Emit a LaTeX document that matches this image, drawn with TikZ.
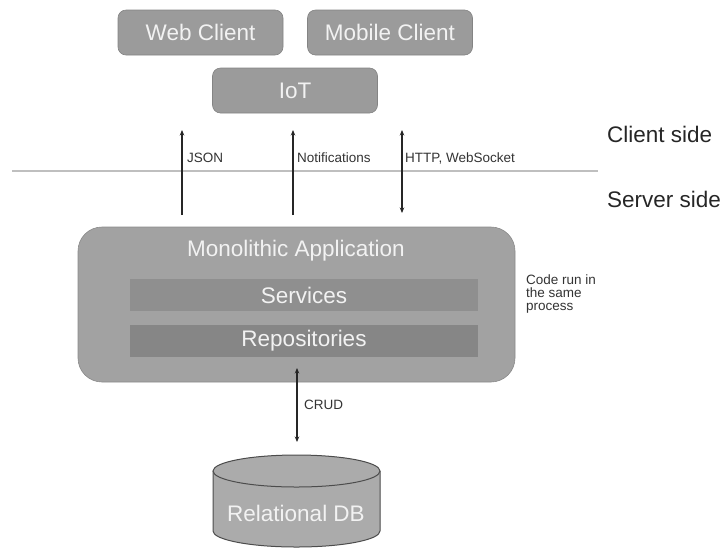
\documentclass[tikz,border=0pt]{standalone}
\usepackage{fontspec}
\setmainfont{Liberation Sans}
\usetikzlibrary{arrows.meta}
\definecolor{boxgray}{HTML}{9B9B9B}
\definecolor{appgray}{HTML}{A2A2A2}
\definecolor{svcgray}{HTML}{8F8F8F}
\definecolor{repgray}{HTML}{868686}
\definecolor{dbgray}{HTML}{ABABAB}
\definecolor{boxtext}{HTML}{F2F2F2}
\definecolor{labeltext}{HTML}{333333}
\tikzset{
  bigfont/.style={font=\fontsize{22.5}{25}\selectfont},
  client/.style={draw=boxgray!85!black, line width=0.6pt, fill=boxgray, rounded corners=8pt,
    minimum width=165pt, minimum height=45pt, inner sep=0pt,
    text=boxtext, bigfont},
  layer/.style={minimum width=348pt, minimum height=32pt, inner sep=0pt,
    text=boxtext, bigfont},
  tip/.tip={Stealth[length=5.5pt,width=4.5pt]},
  flow/.style={line width=1.4pt, black!85, tip-tip},
  upflow/.style={line width=1.4pt, black!85, -tip},
  small/.style={text=labeltext, font=\fontsize{13.5}{13}\selectfont, inner sep=0pt, anchor=west},
  side/.style={text=black!85, bigfont, inner sep=0pt, anchor=west}
}
\begin{document}
\begin{tikzpicture}[x=1pt, y=-1pt]
\useasboundingbox (0,0) rectangle (722,550);

% client tier
\node[client] (web) at (200.5,32.5) {Web Client};
\node[client] (mobile) at (390,32.5) {Mobile Client};
\node[client] (iot) at (295,90.5) {IoT};

% boundary between client and server
\draw[black!25, line width=1.2pt] (12,171) -- (598,171);
\node[side] (cside) at (607,134) {Client side};
\node[side] (sside) at (607,199) {Server side};

% server application
\node[draw=appgray!85!black, line width=0.6pt, fill=appgray, rounded corners=24pt,
      minimum width=437pt, minimum height=155pt, inner sep=0pt] (mono) at (296.5,304.5) {};
\node[text=boxtext, bigfont, inner sep=0pt] (monotitle) at (296,251) {Monolithic Application};
\node[layer, fill=svcgray] (svc) at (304,295) {Services};
\node[layer, fill=repgray] (repo) at (304,341) {Repositories};
\node[small, align=left] (note) at (526,294) {Code run in\\the same\\process};

% client/server connectors
\coordinate (j0) at (182,215); \coordinate (j1) at (182,130);
\coordinate (n0) at (293,215); \coordinate (n1) at (293,130);
\coordinate (h0) at (402,213); \coordinate (h1) at (402,130);
\draw[upflow] (j0) -- (j1);
\draw[upflow] (n0) -- (n1);
\draw[flow] (h0) -- (h1);
\node[small] (ljson) at (187,158) {JSON};
\node[small] (lnote) at (297,158) {Notifications};
\node[small] (lhttp) at (405,158) {HTTP, WebSocket};

% database
\fill[dbgray] (213,471) -- (213,531) arc[start angle=180, end angle=360, x radius=83.5pt, y radius=16pt]
  -- (380,471) arc[start angle=0, end angle=180, x radius=83.5pt, y radius=16pt] -- cycle;
\draw[black!70, line width=1pt] (213,471) -- (213,531) arc[start angle=180, end angle=360, x radius=83.5pt, y radius=16pt] -- (380,471);
\draw[black!70, line width=1pt, fill=dbgray] (296.5,471) ellipse[x radius=83.5pt, y radius=16pt];
\node[text=boxtext, bigfont, inner sep=0pt] (db) at (296,513) {Relational DB};

\coordinate (c0) at (297,368); \coordinate (c1) at (297,442);
\draw[flow] (c0) -- (c1);
\node[small] (lcrud) at (304,405) {CRUD};
\end{tikzpicture}
\end{document}
